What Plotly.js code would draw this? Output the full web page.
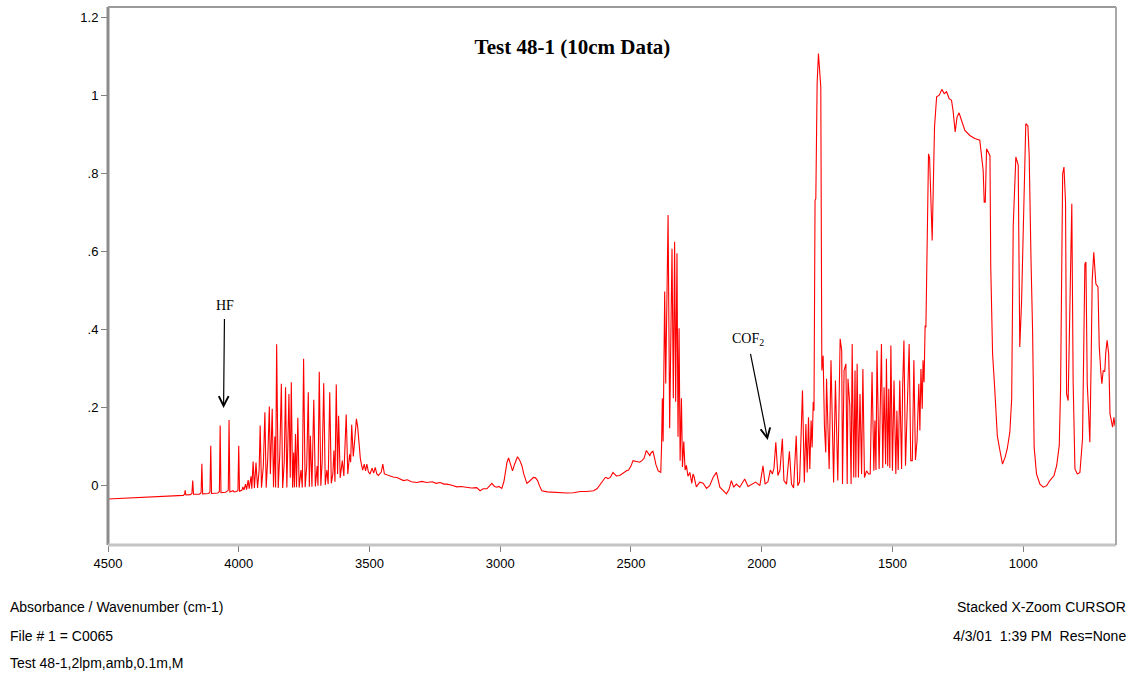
<!DOCTYPE html>
<html>
<head>
<meta charset="utf-8">
<script src="https://cdn.plot.ly/plotly-3.0.1.min.js"></script>
<style>
  html, body { margin: 0; padding: 0; background: #ffffff; }
  #chart { width: 1134px; height: 675px; }
</style>
</head>
<body>
<div id="chart"></div>
<script>
// ---- Data: [wavenumber (cm-1), absorbance] ----
const hfRegion = [[4500,-0.034],[4460,-0.033],[4420,-0.032],[4380,-0.031],[4340,-0.029],[4300,-0.028],[4260,-0.027],[4230,-0.026],[4212,-0.025],[4207,-0.022],[4205,-0.012],[4202,-0.024],[4185,-0.023],[4179,-0.020],[4176,0.013],[4173,-0.022],[4150,-0.022],[4144,-0.018],[4141,0.056],[4138,-0.021],[4115,-0.020],[4110,-0.016],[4107,0.102],[4104,-0.020],[4080,-0.019],[4074,-0.015],[4071,0.154],[4068,-0.018],[4050,-0.017],[4040,-0.012],[4037,0.168],[4034,-0.016],[4022,-0.013],[4018,-0.016],[4008,-0.015],[4003,-0.012],[4000,0.102],[3997,-0.014],[3988,-0.012],[3984,-0.003],[3980,-0.011],[3974,0.004],[3970,-0.010],[3964,0.014],[3960,-0.008],[3953,0.024]];

const waterRegion = [[3950,-0.008],[3945,0.062],[3940,-0.006],[3934,0.059],[3928,-0.006],[3922,0.040],[3918,0.154],[3913,-0.005],[3906,0.050],[3900,0.188],[3895,-0.005],[3889,0.070],[3883,0.203],[3879,0.030],[3872,0.197],[3867,-0.004],[3862,0.126],[3859,-0.005],[3855,0.362],[3849,-0.006],[3843,0.080],[3837,0.261],[3832,-0.006],[3826,0.060],[3821,0.252],[3816,-0.005],[3808,0.235],[3803,0.020],[3799,0.265],[3794,-0.005],[3790,0.085],[3787,-0.004],[3783,0.132],[3779,-0.004],[3774,0.174],[3769,-0.005],[3762,0.040],[3757,-0.005],[3752,0.325],[3746,-0.004],[3740,0.050],[3734,0.239],[3730,-0.003],[3726,0.128],[3720,-0.003],[3713,0.220],[3707,-0.002],[3700,0.050],[3697,0.000],[3692,0.292],[3686,0.000],[3681,0.060],[3675,0.262],[3669,0.002],[3663,0.040],[3658,0.004],[3652,0.239],[3646,0.006],[3640,0.030],[3636,0.090],[3632,0.010],[3627,0.259],[3622,0.030],[3618,0.179],[3612,0.020],[3604,0.064],[3598,0.025],[3589,0.182],[3583,0.030],[3576,0.080],[3572,0.060],[3568,0.156],[3562,0.075],[3556,0.120],[3550,0.171],[3545,0.150],[3540,0.107],[3535,0.070],[3531,0.055]];

const chRegion = [[3526,0.040],[3520,0.055],[3515,0.038],[3510,0.055],[3504,0.035],[3498,0.030],[3490,0.045],[3484,0.032],[3478,0.047],[3472,0.030],[3466,0.026],[3455,0.035],[3449,0.055],[3443,0.030],[3435,0.028],[3421,0.026],[3410,0.022],[3395,0.021],[3385,0.017],[3370,0.013],[3355,0.015],[3340,0.010],[3319,0.008],[3300,0.011],[3281,0.008],[3260,0.010],[3245,0.006],[3230,0.008],[3215,0.004],[3204,0.004],[3185,0.001],[3166,-0.003],[3150,-0.002],[3128,-0.004],[3110,-0.006],[3090,-0.005],[3077,-0.013],[3065,-0.008],[3051,-0.008],[3040,0.000],[3032,0.006],[3022,-0.002],[3013,-0.004],[3005,-0.002],[2994,-0.007],[2986,0.010],[2981,0.034],[2974,0.060],[2968,0.071],[2960,0.052],[2953,0.038],[2945,0.055],[2934,0.074],[2926,0.066],[2917,0.051],[2910,0.030],[2898,0.006],[2890,0.010],[2880,0.018],[2873,0.021],[2865,0.020],[2857,0.013],[2850,0.000],[2841,-0.013],[2820,-0.016],[2796,-0.017],[2770,-0.019],[2745,-0.019],[2720,-0.018],[2694,-0.015]];

const co2Region = [[2670,-0.015],[2643,-0.013],[2630,-0.008],[2620,0.000],[2608,0.012],[2598,0.021],[2594,0.021],[2588,0.018],[2579,0.021],[2569,0.034],[2556,0.025],[2543,0.026],[2528,0.034],[2517,0.038],[2509,0.040],[2500,0.050],[2492,0.064],[2480,0.062],[2467,0.060],[2458,0.064],[2450,0.070],[2441,0.090],[2434,0.082],[2428,0.077],[2422,0.085],[2416,0.088],[2410,0.072],[2405,0.055],[2396,0.038],[2389,0.034],[2386,0.034],[2383,0.100],[2380,0.224],[2377,0.113],[2371,0.497],[2367,0.262],[2358,0.693],[2352,0.147],[2343,0.607],[2338,0.224],[2333,0.625],[2329,0.215],[2324,0.595],[2320,0.125],[2316,0.403],[2312,0.064],[2307,0.224],[2303,0.048],[2298,0.113],[2293,0.040],[2288,0.052],[2282,0.024],[2275,0.034],[2267,0.006],[2263,0.030],[2259,0.024],[2250,-0.003],[2237,0.009],[2224,0.006],[2211,-0.007],[2199,0.000],[2186,0.021],[2173,0.034]];

const cof2Region = [[2160,-0.004],[2148,-0.013],[2135,-0.021],[2125,-0.010],[2116,0.013],[2107,-0.004],[2097,0.004],[2084,-0.004],[2075,0.006],[2065,0.017],[2052,-0.002],[2039,0.002],[2023,0.009],[2007,0.000],[1995,0.051],[1987,0.004],[1976,0.010],[1967,0.040],[1959,0.030],[1953,0.045],[1946,0.111],[1938,0.026],[1930,0.040],[1921,0.120],[1915,0.013],[1905,0.004],[1894,0.088],[1886,0.004],[1878,-0.006],[1868,0.128],[1862,0.000],[1855,0.010],[1844,0.244],[1837,0.008],[1831,0.158],[1826,0.034],[1821,0.175],[1816,0.043],[1811,0.167],[1807,0.098],[1803,0.214],[1800,0.192]];

const midRegion = [[1796,0.731],[1793,0.735],[1788,1.030],[1783,1.107],[1779,1.056],[1774,1.021],[1770,0.295],[1765,0.333],[1760,0.150],[1755,0.085],[1752,0.274],[1742,0.043],[1735,0.321],[1725,0.008],[1718,0.269],[1709,0.013],[1700,0.376],[1694,0.346],[1691,0.004],[1685,0.295],[1678,0.312],[1673,0.004],[1670,0.274],[1663,0.205],[1658,0.004],[1654,0.363],[1648,0.021],[1643,0.295],[1640,0.021],[1635,0.312],[1630,0.021],[1624,0.235],[1618,0.030],[1613,0.299],[1607,0.021],[1599,0.038],[1591,0.030],[1585,0.030],[1578,0.291],[1571,0.038],[1567,0.167],[1563,0.040],[1559,0.346],[1551,0.043],[1542,0.363],[1537,0.045],[1532,0.252],[1526,0.055],[1523,0.325],[1518,0.050],[1514,0.248],[1510,0.045],[1506,0.359],[1500,0.038],[1494,0.269],[1487,0.030],[1483,0.192],[1478,0.040],[1472,0.269],[1465,0.043],[1461,0.252],[1456,0.372],[1450,0.051],[1444,0.179],[1436,0.363],[1430,0.064],[1424,0.064],[1418,0.321],[1412,0.066],[1406,0.115],[1399,0.261],[1395,0.141],[1391,0.299],[1386,0.197],[1383,0.321],[1379,0.265],[1375,0.410],[1372,0.406]];

const lowRegion = [[1367,0.662],[1362,0.850],[1358,0.840],[1354,0.731],[1348,0.628],[1339,0.919],[1331,0.996],[1321,1.000],[1311,1.015],[1302,1.004],[1293,1.009],[1283,0.991],[1274,0.987],[1268,0.960],[1260,0.906],[1253,0.944],[1245,0.955],[1236,0.936],[1223,0.910],[1204,0.897],[1185,0.889],[1166,0.885],[1158,0.842],[1153,0.808],[1149,0.726],[1145,0.726],[1140,0.863],[1132,0.850],[1127,0.845],[1124,0.560],[1117,0.338],[1108,0.239],[1099,0.128],[1089,0.090],[1079,0.055],[1069,0.073],[1061,0.094],[1051,0.137],[1044,0.222],[1038,0.667],[1028,0.842],[1019,0.821],[1013,0.355],[1006,0.474],[997,0.731],[990,0.927],[982,0.922],[977,0.846],[970,0.577],[964,0.397],[958,0.098],[949,0.030],[936,0.004],[923,-0.004],[910,0.000],[898,0.013],[882,0.026],[872,0.051],[862,0.103],[857,0.248],[849,0.799],[844,0.816],[838,0.726],[834,0.235],[828,0.218],[821,0.534],[814,0.722],[809,0.269],[802,0.043],[793,0.030],[783,0.034],[773,0.120],[768,0.321],[764,0.568],[760,0.573],[755,0.261],[750,0.192],[745,0.111],[740,0.321],[736,0.526],[730,0.598],[722,0.517],[714,0.509],[709,0.355],[703,0.291],[699,0.261],[694,0.295],[688,0.292],[684,0.342],[679,0.372],[673,0.338],[668,0.184],[663,0.167],[658,0.150],[653,0.175],[649,0.154],[645,0.150]];

const xTickVals = [4500, 4000, 3500, 3000, 2500, 2000, 1500, 1000];
const xTickText = ['4500', '4000', '3500', '3000', '2500', '2000', '1500', '1000'];
const yTickVals = [0, 0.2, 0.4, 0.6, 0.8, 1.0, 1.2];
const yTickText = ['0', '.2', '.4', '.6', '.8', '1', '1.2'];

// ---- Build trace ----
const allPoints = [].concat(hfRegion, waterRegion, chRegion, co2Region, cof2Region, midRegion, lowRegion);
const xs = allPoints.map(p => p[0]);
const ys = allPoints.map(p => p[1]);

const trace = {
  x: xs, y: ys, type: 'scatter', mode: 'lines',
  line: { color: '#ff0000', width: 1.1 },
  hoverinfo: 'skip'
};

const sans = 'Liberation Sans, Arial, sans-serif';
const serif = 'Liberation Serif, Times New Roman, serif';

const layout = {
  width: 1134, height: 675,
  margin: { l: 108, r: 18, t: 7, b: 130 },
  paper_bgcolor: '#ffffff', plot_bgcolor: '#ffffff',
  showlegend: false,
  title: {
    text: '<b>Test 48-1 (10cm Data)</b>',
    font: { family: serif, size: 21, color: '#000000' },
    xref: 'paper', x: 0.4608, xanchor: 'center',
    yref: 'paper', y: 0.9257, yanchor: 'middle'
  },
  xaxis: {
    range: [4500, 645], autorange: false,
    tickvals: xTickVals, ticktext: xTickText,
    ticks: 'outside', ticklen: 6, tickcolor: '#808080', tickwidth: 1,
    showgrid: false, zeroline: false, showline: false,
    tickfont: { family: sans, size: 13, color: '#000000' }
  },
  yaxis: {
    range: [-0.152, 1.226], autorange: false,
    tickvals: yTickVals, ticktext: yTickText,
    ticks: 'outside', ticklen: 6, tickcolor: '#808080', tickwidth: 1,
    showgrid: false, zeroline: false, showline: false,
    tickfont: { family: sans, size: 13, color: '#000000' }
  },
  shapes: [
    { type: 'line', xref: 'paper', yref: 'paper', x0: 0, x1: 0, y0: 0, y1: 1, line: { color: '#8c8c8c', width: 3 } },
    { type: 'line', xref: 'paper', yref: 'paper', x0: 0, x1: 1, y0: 1, y1: 1, line: { color: '#9a9a9a', width: 2 } },
    { type: 'line', xref: 'paper', yref: 'paper', x0: 0, x1: 1, y0: 0, y1: 0, line: { color: '#c4c4c4', width: 3 } },
    { type: 'line', xref: 'paper', yref: 'paper', x0: 1, x1: 1, y0: 0, y1: 1, line: { color: '#a8a8a8', width: 2 } }
  ],
  annotations: [
    { xref: 'x', yref: 'y', x: 4058, y: 0.199, text: 'HF', showarrow: true,
      ax: 1, ay: -102, standoff: 0, startstandoff: 4,
      arrowhead: 5, arrowsize: 1.6, arrowwidth: 1.2, arrowcolor: '#000000',
      font: { family: serif, size: 14, color: '#000000' } },
    { xref: 'x', yref: 'y', x: 1977, y: 0.117, text: 'COF<sub>2</sub>', showarrow: true,
      ax: -20, ay: -100, standoff: 0, startstandoff: 4,
      arrowhead: 5, arrowsize: 1.6, arrowwidth: 1.2, arrowcolor: '#000000',
      font: { family: serif, size: 14, color: '#000000' } },
    { xref: 'paper', yref: 'paper', x: -0.0992, y: -0.115, xanchor: 'left', yanchor: 'middle',
      text: 'Absorbance / Wavenumber (cm-1)', showarrow: false, font: { family: sans, size: 14, color: '#000000' } },
    { xref: 'paper', yref: 'paper', x: -0.0992, y: -0.169, xanchor: 'left', yanchor: 'middle',
      text: 'File # 1 = C0065', showarrow: false, font: { family: sans, size: 14, color: '#000000' } },
    { xref: 'paper', yref: 'paper', x: -0.0992, y: -0.219, xanchor: 'left', yanchor: 'middle',
      text: 'Test 48-1,2lpm,amb,0.1m,M', showarrow: false, font: { family: sans, size: 14, color: '#000000' } },
    { xref: 'paper', yref: 'paper', x: 1.0119, y: -0.115, xanchor: 'right', yanchor: 'middle',
      text: 'Stacked X-Zoom CURSOR', showarrow: false, font: { family: sans, size: 14, color: '#000000' } },
    { xref: 'paper', yref: 'paper', x: 1.0119, y: -0.169, xanchor: 'right', yanchor: 'middle',
      text: '4/3/01&nbsp;&nbsp;1:39 PM&nbsp;&nbsp;Res=None', showarrow: false, font: { family: sans, size: 14, color: '#000000' } }
  ]
};

Plotly.newPlot('chart', [trace], layout, { staticPlot: true, displayModeBar: false });
</script>
</body>
</html>
